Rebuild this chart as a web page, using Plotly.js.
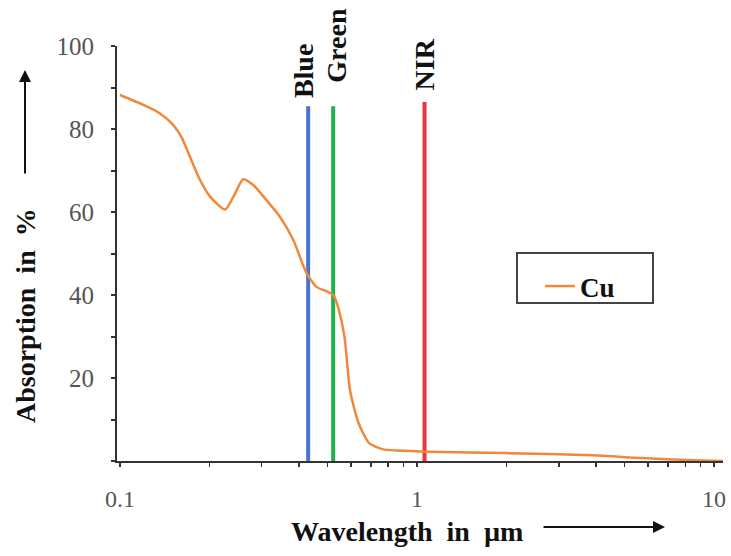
<!DOCTYPE html>
<html>
<head>
<meta charset="utf-8">
<script src="https://cdn.plot.ly/plotly-3.0.1.min.js"></script>
<style>html,body{margin:0;padding:0;background:#fff;}#chart{width:731px;height:556px;}</style>
</head>
<body>
<div id="chart"></div>
<script>
// Cu absorption curve (wavelength in µm, absorption in %)
const wavelength = [0.1, 0.12, 0.136, 0.151, 0.161, 0.172, 0.186, 0.201, 0.226, 0.241, 0.26, 0.281, 0.311, 0.345, 0.383, 0.425, 0.46, 0.5, 0.525, 0.545, 0.57, 0.595, 0.635, 0.69, 0.77, 0.95, 1.1, 2.0, 3.9, 5.7, 8.5, 11];
const absorption = [88.2, 85.8, 83.8, 81, 78.1, 73.3, 67.7, 63.7, 60.6, 63.7, 67.9, 66.5, 62.9, 58.9, 53.3, 45.2, 41.9, 40.8, 39.8, 36.5, 29.9, 17, 9.2, 4.3, 2.8, 2.4, 2.2, 1.9, 1.4, 0.7, 0.2, 0];

// Spectral band markers
const bandNames = ["Blue", "Green", "NIR"];
const bandWavelengths = [0.43, 0.522, 1.06];
const bandTops = [85.5, 85.5, 86.5];
const bandLabelBottoms = [87, 90.6, 88.7];
const bandColors = ["#4a72d0", "#1db34a", "#e8363c"];

// Axis ticks
const xTickVals = [0.1, 1, 10];
const xTickText = ["0.1", "1", "10"];
const yTickVals = [20, 40, 60, 80, 100];
const yTickText = ["20", "40", "60", "80", "100"];

const serif = "Liberation Serif";

const traces = [];
bandNames.forEach((n, i) => {
  traces.push({
    type: "scatter", mode: "lines",
    x: [bandWavelengths[i], bandWavelengths[i]],
    y: [0, bandTops[i]],
    line: {color: bandColors[i], width: 4},
    showlegend: false, hoverinfo: "skip", name: n
  });
});
traces.push({
  type: "scatter", mode: "lines", name: "Cu",
  x: wavelength, y: absorption,
  line: {color: "#f0883a", width: 2.5, shape: "spline", smoothing: 0.6}
});

const W0 = 117, W1 = 723, H0 = 46, H1 = 461;
const px = v => (v - W0) / (W1 - W0);
const py = v => (H1 - v) / (H1 - H0);

const annotations = bandNames.map((n, i) => ({
  xref: "x", yref: "y",
  x: Math.log10(bandWavelengths[i]), y: bandLabelBottoms[i],
  text: n, textangle: -90, showarrow: false,
  xanchor: "center", yanchor: "bottom",
  xshift: i === 0 ? -4 : (i === 1 ? 3 : 0),
  font: {family: serif, size: 28, color: "#111", weight: 700}
}));
annotations.push({
  xref: "paper", yref: "paper", x: px(407), y: py(531),
  text: "Wavelength\u00a0 in\u00a0 µm", showarrow: false,
  xanchor: "center", yanchor: "middle",
  font: {family: serif, size: 28, color: "#111", weight: 700}
});
annotations.push({
  xref: "paper", yref: "paper", x: px(25), y: py(316),
  text: "Absorption\u00a0 in\u00a0 %", showarrow: false, textangle: -90,
  xanchor: "center", yanchor: "middle",
  font: {family: serif, size: 28, color: "#111", weight: 700}
});
annotations.push({
  xref: "paper", yref: "paper", x: px(665), y: py(527),
  text: "", showarrow: true, ax: -123, ay: 0,
  arrowhead: 2, arrowsize: 1.2, arrowwidth: 2, arrowcolor: "#111", standoff: 0
});
annotations.push({
  xref: "paper", yref: "paper", x: px(25), y: py(70),
  text: "", showarrow: true, ax: 0, ay: 105,
  arrowhead: 2, arrowsize: 1.2, arrowwidth: 2, arrowcolor: "#111", standoff: 0
});

const layout = {
  width: 731, height: 556,
  margin: {l: W0, r: 731 - W1, t: H0, b: 556 - H1},
  paper_bgcolor: "#fff", plot_bgcolor: "#fff",
  showlegend: true,
  legend: {
    x: px(540), y: py(262), xanchor: "left", yanchor: "top",
    bgcolor: "rgba(0,0,0,0)", borderwidth: 0,
    font: {family: serif, size: 27, color: "#111", weight: 700}
  },
  xaxis: {
    type: "log", range: [-1.01, 1.03],
    showline: true, linecolor: "#333", linewidth: 2, mirror: false,
    showgrid: false, zeroline: false,
    tickmode: "array", tickvals: xTickVals, ticktext: xTickText,
    ticks: "outside", ticklen: 4, tickwidth: 2, tickcolor: "#333",
    ticklabelstandoff: 11,
    minor: {dtick: "D1", ticks: "outside", ticklen: 4, tickwidth: 1.5, tickcolor: "#333", showgrid: false},
    tickfont: {family: serif, size: 24, color: "#555"}
  },
  yaxis: {
    range: [0, 100],
    showline: true, linecolor: "#333", linewidth: 2,
    showgrid: false, zeroline: false,
    tickmode: "array", tickvals: yTickVals, ticktext: yTickText,
    ticks: "outside", ticklen: 4, tickwidth: 2, tickcolor: "#333",
    ticklabelstandoff: 12,
    minor: {dtick: 10, ticks: "outside", ticklen: 4, tickwidth: 2, tickcolor: "#333", showgrid: false},
    tickfont: {family: serif, size: 25, color: "#555"}
  },
  shapes: [{
    type: "rect", xref: "paper", yref: "paper",
    x0: px(517), x1: px(653), y0: py(303), y1: py(253),
    line: {color: "#444", width: 2}, fillcolor: "rgba(0,0,0,0)"
  }],
  annotations: annotations
};

Plotly.newPlot("chart", traces, layout, {displayModeBar: false, staticPlot: true});
</script>
</body>
</html>
